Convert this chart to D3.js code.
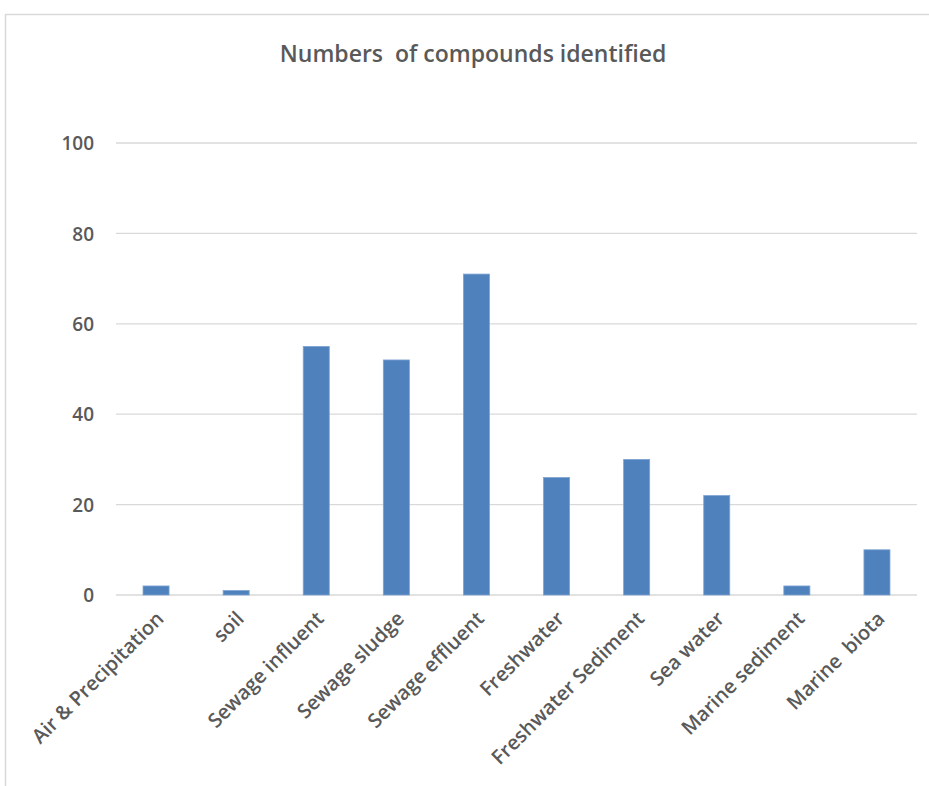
<!DOCTYPE html>
<html>
<head>
<meta charset="utf-8">
<script src="https://cdn.jsdelivr.net/npm/d3@7"></script>
<style>
  body { margin: 0; background: #fff; }
  svg text { font-family: 'Open Sans', 'Liberation Sans', sans-serif; fill: #595959; }
</style>
</head>
<body>
<svg id="chart"></svg>
<script>
'use strict';

const categories = ['Air & Precipitation', 'soil', 'Sewage influent', 'Sewage sludge',
  'Sewage effluent', 'Freshwater', 'Freshwater Sediment', 'Sea water',
  'Marine sediment', 'Marine  biota'];
const counts = [2, 1, 55, 52, 71, 26, 30, 22, 2, 10];
const yTicks = [0, 20, 40, 60, 80, 100];
const title = 'Numbers  of compounds identified';

(function() {
  const width = 929;
  const height = 786;
  const margin = ({top: 143, right: 12, bottom: 191, left: 116});

  const svg = d3.select('#chart')
                .attr('width', width)
                .attr('height', height);

  // chart frame (cropped on right and bottom)
  svg.append('rect')
     .attr('x', 5.5)
     .attr('y', 14.5)
     .attr('width', width + 10)
     .attr('height', height + 10)
     .attr('fill', 'none')
     .attr('stroke', '#d9d9d9')
     .attr('stroke-width', 1.5);

  const xScale = d3.scaleBand()
                   .domain(categories)
                   .range([margin.left, width - margin.right])
                   .paddingInner(0.675)
                   .paddingOuter(0.3375);

  const yScale = d3.scaleLinear()
                   .domain([0, 100])
                   .range([height - margin.bottom, margin.top]);

  // gridlines
  svg.append('g')
     .selectAll('line')
     .data(yTicks)
     .enter()
     .append('line')
       .attr('x1', margin.left)
       .attr('x2', width - margin.right)
       .attr('y1', d => yScale(d))
       .attr('y2', d => yScale(d))
       .attr('stroke', '#d9d9d9')
       .attr('stroke-width', 1.3);

  // y axis labels
  const yAxis = svg.append('g')
                   .attr('transform', `translate(${margin.left - 22}, 0)`)
                   .call(d3.axisLeft(yScale).tickValues(yTicks).tickSize(0).tickPadding(0));
  yAxis.select('.domain').remove();
  yAxis.selectAll('text')
       .attr('font-size', '19px')
       .attr('font-weight', 600)
       .attr('fill', '#595959')
       .attr('dy', '0.35em');

  // bars
  svg.append('g')
     .selectAll('rect')
     .data(counts)
     .enter()
     .append('rect')
       .attr('x', (d, i) => xScale(categories[i]))
       .attr('y', d => yScale(d))
       .attr('width', xScale.bandwidth())
       .attr('height', d => yScale(0) - yScale(d))
       .attr('fill', '#4f81bd')
       .attr('stroke', '#7ea3d3')
       .attr('stroke-width', 0.8);

  // x axis labels
  const xAxis = svg.append('g')
                   .attr('transform', `translate(0, ${yScale(0)})`)
                   .call(d3.axisBottom(xScale).tickSize(0).tickPadding(0));
  xAxis.select('.domain').remove();
  xAxis.selectAll('text')
       .attr('font-size', '20px')
       .attr('font-weight', 600)
       .attr('fill', '#595959')
       .attr('text-anchor', 'end')
       .attr('transform', 'translate(4, 20) rotate(-45)')
       .attr('dy', '0.35em')
       .style('white-space', 'pre');

  // title
  svg.append('text')
     .attr('x', 473)
     .attr('y', 62)
     .attr('text-anchor', 'middle')
     .attr('font-size', '23px')
     .attr('font-weight', 600)
     .style('white-space', 'pre')
     .text(title);
})();
</script>
</body>
</html>
